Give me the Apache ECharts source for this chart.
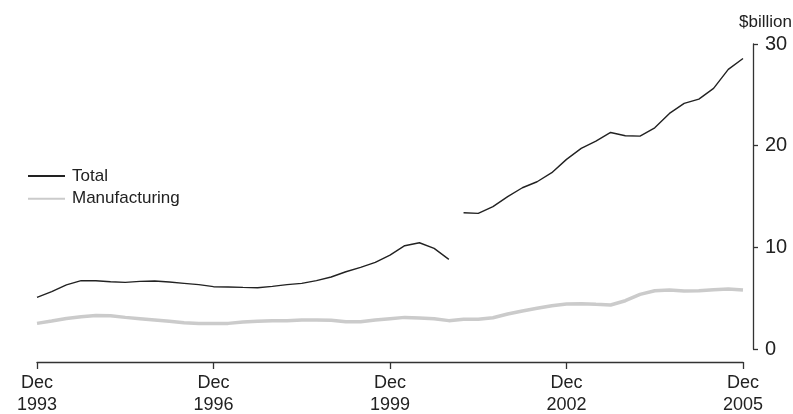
<!DOCTYPE html>
<html>
<head>
<meta charset="utf-8">
<script src="https://cdn.jsdelivr.net/npm/echarts@6/dist/echarts.min.js"></script>
<style>html,body{margin:0;padding:0;background:#fff}#c{width:793px;height:414px}</style>
</head>
<body>
<div id="c"></div>
<script>
// Quarterly categories, Dec 1993 .. Dec 2005
const months = ['Dec','Mar','Jun','Sep'];
const categories = [];
for (let i = 0; i < 49; i++) {
  const m = months[i % 4];
  const y = 1993 + Math.ceil(i / 4);
  categories.push(m + ' ' + y);
}
// Total ($billion), series break between Dec 2000 and Mar 2001
const totalPart1 = [5.08,5.64,6.3,6.72,6.72,6.62,6.55,6.65,6.69,6.59,6.46,6.33,6.13,6.1,6.06,6.03,6.16,6.33,6.46,6.72,7.08,7.6,8.03,8.52,9.24,10.16,10.45,9.9,8.82];
const totalPart2 = [13.4,13.34,14.0,14.99,15.86,16.45,17.34,18.65,19.73,20.45,21.3,20.98,20.94,21.76,23.17,24.16,24.58,25.63,27.5,28.58];
const manufacturing = [2.52,2.75,3.0,3.18,3.3,3.28,3.11,2.98,2.85,2.72,2.59,2.52,2.52,2.52,2.65,2.72,2.79,2.79,2.85,2.85,2.82,2.69,2.69,2.85,2.98,3.11,3.05,2.98,2.79,2.92,2.92,3.08,3.44,3.74,4.0,4.26,4.42,4.46,4.39,4.33,4.75,5.37,5.73,5.8,5.7,5.73,5.83,5.9,5.8];
const yTicks = [0,10,20,30];

const totalA = categories.map((c,i) => i < totalPart1.length ? totalPart1[i] : null);
const totalB = categories.map((c,i) => i >= totalPart1.length ? totalPart2[i - totalPart1.length] : null);

const FONT = '"Liberation Sans", Arial, sans-serif';
const chart = echarts.init(document.getElementById('c'), null, {renderer:'canvas'});
chart.setOption({
  animation: false,
  backgroundColor: '#fff',
  textStyle: {fontFamily: FONT},
  grid: {left: 37, right: 50, top: 44, bottom: 65, containLabel: false, outerBoundsMode: 'none'},
  legend: {
    orient: 'vertical', left: 27, top: 167.5, padding: 0,
    itemWidth: 37, itemHeight: 17, itemGap: 5.7,
    data: ['Total','Manufacturing'],
    itemStyle: {opacity: 0},
    textStyle: {fontSize: 17, color: '#222', fontFamily: FONT, padding: [0,0,0,2]},
    selectedMode: false
  },
  graphic: [{
    type: 'text', right: 1, top: 14,
    style: {text: '$billion', font: '17px ' + FONT, fill: '#222'}
  }],
  xAxis: {
    type: 'category', data: categories, boundaryGap: false,
    offset: 13,
    axisLine: {show: true, onZero: false, lineStyle: {color: '#333', width: 1.3}},
    axisTick: {show: true, length: 7, lineStyle: {color:'#333', width: 1.3}, interval: (i) => i % 12 === 0},
    axisLabel: {
      interval: (i) => i % 12 === 0,
      formatter: (v) => v.replace(' ', '\n'),
      fontSize: 18, lineHeight: 22, color: '#222', margin: 10, fontFamily: FONT
    },
    splitLine: {show: false}
  },
  yAxis: {
    type: 'value', position: 'right', min: 0, max: 30, interval: 10,
    offset: 10,
    axisLine: {show: true, onZero: false, lineStyle: {color: '#333', width: 1.3}},
    axisTick: {show: true, length: 5, lineStyle: {color:'#333', width: 1.3}},
    axisLabel: {fontSize: 20, color: '#222', margin: 12, fontFamily: FONT,
      formatter: (v) => yTicks.includes(v) ? String(v) : ''},
    splitLine: {show: false}
  },
  series: [
    {name: 'Manufacturing', type: 'line', data: manufacturing, symbol: 'none', showSymbol: false,
     lineStyle: {color: '#cbcbcb', width: 3.5}, itemStyle: {color: '#cbcbcb'}, z: 2},
    {name: 'Total', type: 'line', data: totalA, symbol: 'none', showSymbol: false, connectNulls: false,
     lineStyle: {color: '#222', width: 1.4}, itemStyle: {color: '#222'}, z: 3},
    {name: 'Total', type: 'line', data: totalB, symbol: 'none', showSymbol: false, connectNulls: false,
     lineStyle: {color: '#222', width: 1.4}, itemStyle: {color: '#222'}, z: 3}
  ]
});
</script>
</body>
</html>
